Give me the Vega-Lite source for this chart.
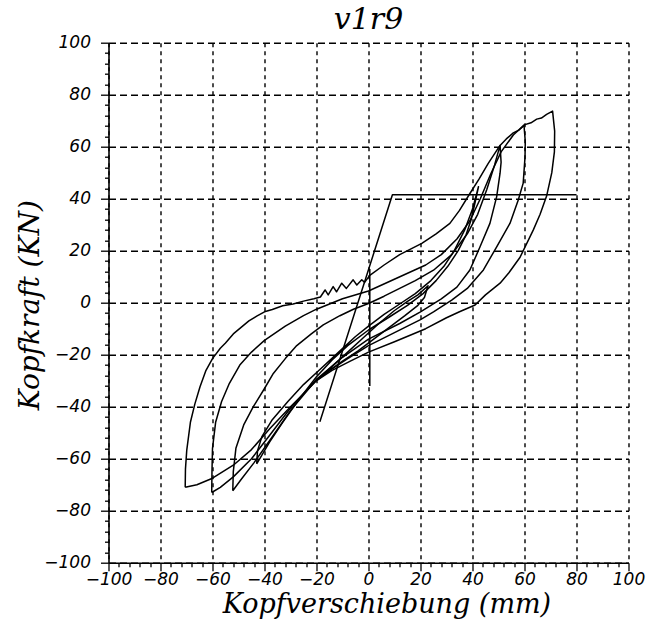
{
  "$schema": "https://vega.github.io/schema/vega-lite/v6.json",
  "autosize": {"type": "none"},
  "width": 520,
  "height": 520,
  "padding": {"left": 108.5, "top": 42.7, "right": 24.5, "bottom": 64.3},
  "background": "white",
  "title": {"text": "v1r9", "font": "DejaVu Serif", "fontStyle": "italic", "fontSize": 30, "fontWeight": "normal", "color": "#000", "offset": -1, "anchor": "middle"},
  "config": {"view": {"stroke": null}},
  "data": {"values": [
    {"s":"L70","x":-70.5,"y":-71},{"s":"L70","x":-70.4,"y":-64},{"s":"L70","x":-69.9,"y":-56.7},{"s":"L70","x":-68.5,"y":-46},{"s":"L70","x":-66.8,"y":-39},{"s":"L70","x":-64.8,"y":-32.3},{"s":"L70","x":-62.5,"y":-26},{"s":"L70","x":-60,"y":-21.5},{"s":"L70","x":-57,"y":-17.5},{"s":"L70","x":-55,"y":-15.5},{"s":"L70","x":-52,"y":-12},{"s":"L70","x":-49,"y":-9.5},{"s":"L70","x":-46,"y":-7},{"s":"L70","x":-43,"y":-5.2},{"s":"L70","x":-40,"y":-3.5},{"s":"L70","x":-37,"y":-2.6},{"s":"L70","x":-33,"y":-1.2},{"s":"L70","x":-29,"y":-0.5},{"s":"L70","x":-25,"y":0.6},{"s":"L70","x":-21,"y":1.5},{"s":"L70","x":-18.5,"y":2.2},{"s":"L70","x":-16.7,"y":4.9},{"s":"L70","x":-15.5,"y":3},{"s":"L70","x":-13.6,"y":6.2},{"s":"L70","x":-12.3,"y":4.2},{"s":"L70","x":-10.3,"y":7.5},{"s":"L70","x":-8.5,"y":5.5},{"s":"L70","x":-5.9,"y":8.8},{"s":"L70","x":-4.5,"y":6.8},{"s":"L70","x":-2.6,"y":8.8},{"s":"L70","x":-1.5,"y":7.8},{"s":"L70","x":0.5,"y":10.5},{"s":"L70","x":6,"y":14.5},{"s":"L70","x":12,"y":18.5},{"s":"L70","x":20.5,"y":22.8},{"s":"L70","x":26,"y":26.5},{"s":"L70","x":31.3,"y":30.5},{"s":"L70","x":35,"y":35.5},{"s":"L70","x":39,"y":42},{"s":"L70","x":42.5,"y":47.5},{"s":"L70","x":46,"y":53.5},{"s":"L70","x":50.6,"y":60.5},{"s":"L70","x":53,"y":63},{"s":"L70","x":55.7,"y":65.3},{"s":"L70","x":58,"y":66.5},{"s":"L70","x":60.2,"y":68.5},{"s":"L70","x":62.5,"y":69.2},{"s":"L70","x":64.7,"y":70.6},{"s":"L70","x":66.5,"y":71},{"s":"L70","x":68.5,"y":72.4},{"s":"L70","x":70.8,"y":73.7},
    {"s":"L70","x":71.6,"y":66},{"s":"L70","x":71.5,"y":58},{"s":"L70","x":70.5,"y":50},{"s":"L70","x":68.5,"y":41},{"s":"L70","x":66,"y":34},{"s":"L70","x":63.4,"y":28},{"s":"L70","x":58.3,"y":17.5},{"s":"L70","x":54,"y":11.5},{"s":"L70","x":50.6,"y":7.5},{"s":"L70","x":45,"y":3},{"s":"L70","x":41,"y":-0.9},{"s":"L70","x":35,"y":-3.5},{"s":"L70","x":30,"y":-5.8},{"s":"L70","x":22,"y":-10},{"s":"L70","x":10,"y":-15},{"s":"L70","x":0,"y":-19},{"s":"L70","x":-7,"y":-22.5},{"s":"L70","x":-14,"y":-26},{"s":"L70","x":-20,"y":-30},{"s":"L70","x":-30,"y":-40},{"s":"L70","x":-38,"y":-48.5},{"s":"L70","x":-45,"y":-56.5},{"s":"L70","x":-52,"y":-62.5},{"s":"L70","x":-60,"y":-67.5},{"s":"L70","x":-66,"y":-70},{"s":"L70","x":-70.5,"y":-71},

    {"s":"L60","x":-60.3,"y":-73},{"s":"L60","x":-60.2,"y":-65},{"s":"L60","x":-60,"y":-56},{"s":"L60","x":-58.8,"y":-46},{"s":"L60","x":-56.5,"y":-38},{"s":"L60","x":-53.5,"y":-31},{"s":"L60","x":-49.5,"y":-24},{"s":"L60","x":-45,"y":-19},{"s":"L60","x":-40,"y":-14.5},{"s":"L60","x":-32,"y":-9},{"s":"L60","x":-25,"y":-5},{"s":"L60","x":-20,"y":-2.5},{"s":"L60","x":-10,"y":1.5},{"s":"L60","x":0,"y":4.5},{"s":"L60","x":11,"y":9.5},{"s":"L60","x":22,"y":14.5},{"s":"L60","x":28,"y":18.5},{"s":"L60","x":34,"y":24.5},{"s":"L60","x":39,"y":31.5},{"s":"L60","x":43,"y":40},{"s":"L60","x":47,"y":49.5},{"s":"L60","x":51,"y":58},{"s":"L60","x":55.7,"y":64.5},{"s":"L60","x":59.8,"y":68.3},
    {"s":"L60","x":60.3,"y":62},{"s":"L60","x":60.2,"y":56},{"s":"L60","x":59.5,"y":46},{"s":"L60","x":57.6,"y":39.5},{"s":"L60","x":54.4,"y":30.5},{"s":"L60","x":49.3,"y":21.5},{"s":"L60","x":44.2,"y":12.6},{"s":"L60","x":38,"y":5.5},{"s":"L60","x":32,"y":1},{"s":"L60","x":25,"y":-3.5},{"s":"L60","x":20,"y":-6.5},{"s":"L60","x":10,"y":-11.5},{"s":"L60","x":0,"y":-16.5},{"s":"L60","x":-8,"y":-21.5},{"s":"L60","x":-14,"y":-25.5},{"s":"L60","x":-20,"y":-29.5},{"s":"L60","x":-30,"y":-40.5},{"s":"L60","x":-38,"y":-51},{"s":"L60","x":-45,"y":-60},{"s":"L60","x":-52,"y":-67},{"s":"L60","x":-57,"y":-71},{"s":"L60","x":-60.3,"y":-73},

    {"s":"L50","x":-52.2,"y":-72.3},{"s":"L50","x":-52,"y":-65},{"s":"L50","x":-51,"y":-56},{"s":"L50","x":-48,"y":-47},{"s":"L50","x":-44.3,"y":-40},{"s":"L50","x":-40,"y":-33},{"s":"L50","x":-36.6,"y":-27.2},{"s":"L50","x":-32,"y":-21.5},{"s":"L50","x":-27.6,"y":-16.5},{"s":"L50","x":-22,"y":-12},{"s":"L50","x":-17.4,"y":-8.5},{"s":"L50","x":-11,"y":-5},{"s":"L50","x":-5.8,"y":-2.5},{"s":"L50","x":0,"y":-0.3},{"s":"L50","x":6,"y":2.5},{"s":"L50","x":12,"y":5.5},{"s":"L50","x":18,"y":8.5},{"s":"L50","x":25,"y":12.5},{"s":"L50","x":32,"y":18.5},{"s":"L50","x":38,"y":26.5},{"s":"L50","x":42,"y":34},{"s":"L50","x":45.5,"y":43.5},{"s":"L50","x":48.5,"y":53},{"s":"L50","x":50.6,"y":60.5},
    {"s":"L50","x":51,"y":54},{"s":"L50","x":50.6,"y":49.8},{"s":"L50","x":49.3,"y":40.8},{"s":"L50","x":46.7,"y":30.5},{"s":"L50","x":42.9,"y":21.5},{"s":"L50","x":39,"y":12.6},{"s":"L50","x":34,"y":6},{"s":"L50","x":28,"y":1.5},{"s":"L50","x":20,"y":-3.5},{"s":"L50","x":12,"y":-8},{"s":"L50","x":0,"y":-14},{"s":"L50","x":-10,"y":-21},{"s":"L50","x":-20,"y":-29.5},{"s":"L50","x":-30,"y":-41.5},{"s":"L50","x":-38,"y":-53},{"s":"L50","x":-44,"y":-61.5},{"s":"L50","x":-49,"y":-68},{"s":"L50","x":-52.2,"y":-72.3},

    {"s":"L40","x":-43,"y":-62},{"s":"L40","x":-42.7,"y":-57},{"s":"L40","x":-41,"y":-51.5},{"s":"L40","x":-37,"y":-45},{"s":"L40","x":-31,"y":-38},{"s":"L40","x":-25,"y":-31.5},{"s":"L40","x":-19,"y":-26},{"s":"L40","x":-12,"y":-19.5},{"s":"L40","x":-5,"y":-13},{"s":"L40","x":0,"y":-9},{"s":"L40","x":6,"y":-4.5},{"s":"L40","x":12,"y":-0.5},{"s":"L40","x":18,"y":3.5},{"s":"L40","x":24,"y":8.5},{"s":"L40","x":29,"y":14},{"s":"L40","x":33,"y":20},{"s":"L40","x":37,"y":28},{"s":"L40","x":40,"y":36},{"s":"L40","x":42.3,"y":44.6},
    {"s":"L40","x":41.2,"y":39.5},{"s":"L40","x":39.5,"y":32},{"s":"L40","x":37.5,"y":26},{"s":"L40","x":34.5,"y":20},{"s":"L40","x":30.5,"y":14},{"s":"L40","x":26,"y":8.5},{"s":"L40","x":21,"y":3.5},{"s":"L40","x":15,"y":-1},{"s":"L40","x":8,"y":-5.5},{"s":"L40","x":0,"y":-10.5},{"s":"L40","x":-8,"y":-16.5},{"s":"L40","x":-14,"y":-22},{"s":"L40","x":-20,"y":-28.5},{"s":"L40","x":-27,"y":-37.5},{"s":"L40","x":-33,"y":-46},{"s":"L40","x":-38,"y":-53.5},{"s":"L40","x":-43,"y":-62},

    {"s":"L20","x":-20,"y":-30},{"s":"L20","x":-14,"y":-24.5},{"s":"L20","x":-8,"y":-19},{"s":"L20","x":-2,"y":-13.5},{"s":"L20","x":4,"y":-8},{"s":"L20","x":10,"y":-3},{"s":"L20","x":15,"y":0.5},{"s":"L20","x":19,"y":3},{"s":"L20","x":22.9,"y":6.5},{"s":"L20","x":21.5,"y":2},{"s":"L20","x":19,"y":-1},{"s":"L20","x":14,"y":-5},{"s":"L20","x":8,"y":-9.5},{"s":"L20","x":2,"y":-14},{"s":"L20","x":-4,"y":-18.5},{"s":"L20","x":-10,"y":-22.5},{"s":"L20","x":-15,"y":-26},{"s":"L20","x":-20,"y":-30},

    {"s":"B","x":-18.7,"y":-45.8},{"s":"B","x":9.2,"y":41.5},{"s":"B","x":80,"y":41.5},
    {"s":"V","x":0.5,"y":13},{"s":"V","x":0.5,"y":-32}
  ]},
  "mark": {"type": "line", "color": "#000", "strokeWidth": 1.5, "strokeJoin": "round"},
  "encoding": {
    "x": {"field": "x", "type": "quantitative",
      "scale": {"domain": [-100, 100], "nice": false, "zero": false},
      "axis": {
        "values": [-100,-96,-92,-88,-84,-80,-76,-72,-68,-64,-60,-56,-52,-48,-44,-40,-36,-32,-28,-24,-20,-16,-12,-8,-4,0,4,8,12,16,20,24,28,32,36,40,44,48,52,56,60,64,68,72,76,80,84,88,92,96,100],
        "labelExpr": "datum.value % 20 === 0 ? datum.label : ''",
        "labelOverlap": false, "labelFlush": false,
        "tickSize": {"condition": {"test": "datum.value % 20 === 0", "value": 8}, "value": 4},
        "gridOpacity": {"condition": {"test": "datum.value % 20 === 0", "value": 1}, "value": 0},
        "grid": true, "gridDash": [4, 4], "gridColor": "#000", "gridWidth": 1.4,
        "domainColor": "#000", "domainWidth": 1.6, "tickColor": "#000", "tickWidth": 1.3,
        "labelFont": "DejaVu Sans", "labelFontStyle": "italic", "labelFontSize": 17, "labelColor": "#000", "labelPadding": 1,
        "title": "Kopfverschiebung (mm)", "titleFont": "DejaVu Serif", "titleFontStyle": "italic", "titleFontWeight": "normal", "titleFontSize": 27, "titleColor": "#000",
        "titleX": 278, "titleY": 50, "titleBaseline": "alphabetic", "titleAlign": "center"
      }},
    "y": {"field": "y", "type": "quantitative",
      "scale": {"domain": [-100, 100], "nice": false, "zero": false},
      "axis": {
        "values": [-100,-96,-92,-88,-84,-80,-76,-72,-68,-64,-60,-56,-52,-48,-44,-40,-36,-32,-28,-24,-20,-16,-12,-8,-4,0,4,8,12,16,20,24,28,32,36,40,44,48,52,56,60,64,68,72,76,80,84,88,92,96,100],
        "labelExpr": "datum.value % 20 === 0 ? datum.label : ''",
        "labelOverlap": false, "labelFlush": false,
        "tickSize": {"condition": {"test": "datum.value % 20 === 0", "value": 8}, "value": 4},
        "gridOpacity": {"condition": {"test": "datum.value % 20 === 0", "value": 1}, "value": 0},
        "grid": true, "gridDash": [7, 4], "gridColor": "#000", "gridWidth": 1.4,
        "domainColor": "#000", "domainWidth": 1.6, "tickColor": "#000", "tickWidth": 1.3,
        "labelFont": "DejaVu Sans", "labelFontStyle": "italic", "labelFontSize": 17, "labelColor": "#000", "labelPadding": 10,
        "title": "Kopfkraft (KN)", "titleFont": "DejaVu Serif", "titleFontStyle": "italic", "titleFontWeight": "normal", "titleFontSize": 28, "titleColor": "#000",
        "titleX": -70, "titleY": 262, "titleAngle": -90, "titleBaseline": "alphabetic", "titleAlign": "center"
      }},
    "detail": {"field": "s"},
    "order": {"value": null}
  }
}
